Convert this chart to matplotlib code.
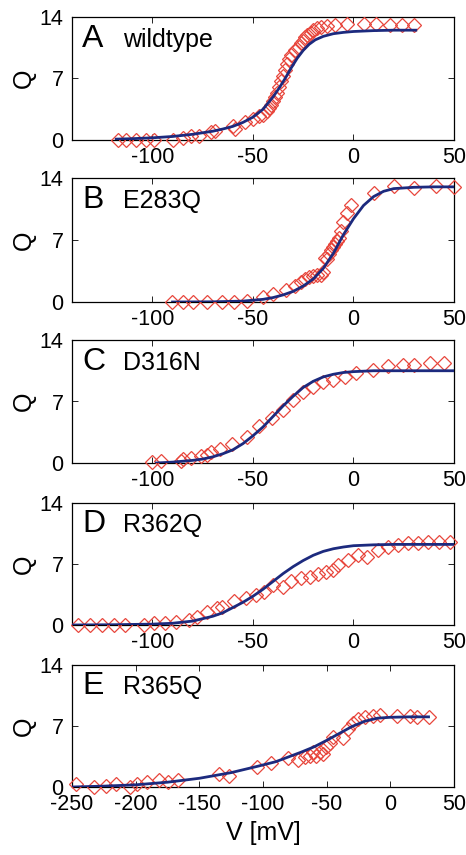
import matplotlib
matplotlib.use("Agg")
import matplotlib.pyplot as plt
import numpy as np

plt.rcParams['font.family'] = ['Liberation Sans', 'DejaVu Sans']
plt.rcParams['axes.unicode_minus'] = False

# panel A - wildtype
wt_v = [-117, -113, -108, -103, -99, -90, -85, -81, -77, -71, -69, -60, -59, -54, -50,
        -47, -45, -43, -42, -41, -40, -39, -38, -37, -36, -35, -34, -33, -32, -31,
        -29, -27, -26, -25, -24, -23, -21, -20, -18, -16, -13, -9, -3, 5, 11, 18, 24, 30]
wt_q = [0.0, 0.0, 0.0, 0.0, 0.0, 0.0, 0.2, 0.4, 0.5, 0.9, 1.0, 1.6, 1.2, 2.0, 2.4,
        2.7, 2.9, 3.3, 3.6, 4.0, 4.4, 4.9, 5.4, 6.0, 6.7, 7.3, 8.0, 8.7, 9.2, 9.7,
        10.2, 10.6, 11.0, 11.3, 11.7, 12.0, 12.2, 12.5, 12.7, 12.9, 13.0, 13.1, 13.2, 13.2,
        13.2, 13.1, 13.1, 13.1]
wt_fit_v = [-118, -110, -100, -90, -80, -70, -65, -60, -55, -50, -45, -40, -37, -34, -31,
            -28, -25, -22, -19, -15, -10, -5, 0, 10, 20, 31]
wt_fit_q = [0.1, 0.15, 0.25, 0.4, 0.65, 1.0, 1.25, 1.55, 2.0, 2.6, 3.5, 4.9, 5.9, 7.0, 8.2,
            9.3, 10.2, 10.9, 11.4, 11.8, 12.1, 12.25, 12.35, 12.45, 12.5, 12.5]

# panel B - E283Q
e283q_v = [-90.5, -84.7, -79.7, -73, -65.5, -59.3, -53, -45, -40, -33.5, -29, -26, -24, -22,
           -20, -18, -16, -15, -14, -13, -12, -11, -10, -9, -8, -7, -6, -5, -3, -1, 10,
           20, 30, 41, 50]
e283q_q = [0.0, 0.0, 0.0, 0.0, 0.0, 0.0, 0.15, 0.6, 0.9, 1.4, 1.8, 2.3, 2.6, 2.8,
           2.9, 3.1, 3.0, 3.4, 5.0, 4.9, 5.4, 5.9, 6.2, 6.6, 6.9, 7.2, 8.0, 9.0, 10.0, 10.9, 12.3,
           13.1, 12.9, 13.1, 13.0]
e283q_fit_v = [-90, -70, -55, -45, -40, -35, -30, -25, -20, -15, -10, -5, 0, 5, 10, 15, 20, 30, 40, 50]
e283q_fit_q = [0.0, 0.02, 0.1, 0.3, 0.5, 0.8, 1.2, 1.8, 2.6, 3.8, 5.5, 7.6, 9.4, 10.9, 11.9,
               12.5, 12.8, 12.95, 13.0, 13.0]

# panel C - D316N
d316n_v = [-100.2, -95.7, -86, -84.7, -80.7, -76, -72.7, -71, -66.3, -60.2, -53, -46.8, -40.7,
           -35.2, -30.2, -25.2, -20.2, -15.2, -10.2, -4.3, 1.5, 9.8, 17.3, 24.8, 30.3, 38.2, 44.8]
d316n_q = [0.1, 0.2, 0.2, 0.4, 0.6, 0.75, 0.95, 1.25, 1.6, 2.2, 3.0, 4.2, 5.1,
           6.05, 7.2, 8.1, 8.7, 9.2, 9.5, 9.8, 10.2, 10.6, 11.0, 11.2, 11.2, 11.35, 11.4]
d316n_fit_v = [-98, -90, -80, -75, -70, -65, -60, -55, -50, -45, -40, -35, -30, -25, -20, -15,
               -10, -5, 0, 10, 25, 50]
d316n_fit_q = [0.0, 0.1, 0.3, 0.45, 0.7, 1.05, 1.5, 2.2, 3.1, 4.1, 5.3, 6.5, 7.6, 8.6, 9.3, 9.8,
               10.1, 10.3, 10.4, 10.5, 10.5, 10.5]

# panel D - R362Q
r362q_v = [-137.2, -131, -125.2, -119.3, -113.5, -104.3, -99.3, -93.5, -88.5, -81.8, -77.7,
           -72.7, -67.7, -65.2, -59.3, -53.5, -48.5, -44.3, -40.2, -35.2, -31, -26, -21.8,
           -17.7, -13.5, -10.2, -7.7, -2.7, 2.3, 6.5, 12.3, 17.3, 22.3, 27.3, 32.3, 37.3,
           42.3, 48.2]
r362q_q = [0.0, 0.0, 0.0, 0.0, 0.0, 0.0, 0.2, 0.2, 0.4, 0.6, 0.95,
           1.5, 1.9, 2.1, 2.7, 3.1, 3.4, 3.8, 4.6, 4.4, 5.0, 5.4, 5.5,
           5.9, 6.1, 6.3, 6.9, 7.5, 8.0, 7.8, 8.6, 9.0, 9.2, 9.4, 9.4, 9.5,
           9.55, 9.5]
r362q_fit_v = [-140, -120, -100, -90, -80, -70, -65, -60, -55, -50, -45, -40, -35, -30, -25,
               -20, -15, -10, -5, 0, 10, 20, 35, 50]
r362q_fit_q = [0.0, 0.03, 0.1, 0.2, 0.45, 1.0, 1.4, 2.0, 2.6, 3.3, 4.1, 5.0, 5.9, 6.7, 7.4,
               8.0, 8.45, 8.75, 8.95, 9.1, 9.2, 9.25, 9.25, 9.25]

# panel E - R365Q
r365q_v = [-246.8, -232.4, -223.2, -215.3, -204.7, -199, -191, -181.8, -174.5, -166.6, -134.5,
           -126.6, -104.7, -93.7, -80.5, -72.6, -67.4, -63.4, -60.8, -58.2, -55.5, -52.9,
           -50.3, -47.6, -45, -37.1, -33, -29, -25.3, -20, -13.4, -8.2, 5, 15.5, 20.8, 30]
r365q_q = [0.4, 0.0, 0.1, 0.3, 0.0, 0.4, 0.6, 0.8, 0.6, 0.8, 1.5,
           1.3, 2.3, 2.7, 3.3, 3.1, 3.45, 3.6, 4.0, 3.6, 4.0, 3.8,
           4.6, 5.0, 5.75, 5.6, 6.7, 7.3, 7.85, 8.05, 8.1, 8.25, 8.1, 8.1, 8.05, 8.05]
r365q_fit_v = [-250, -225, -200, -175, -150, -125, -105, -90, -80, -70, -60, -50, -40, -30,
               -20, -10, 0, 15, 30]
r365q_fit_q = [0.0, 0.1, 0.25, 0.55, 1.0, 1.65, 2.35, 2.9, 3.45, 4.0, 4.6, 5.35, 6.15, 6.95,
               7.55, 7.9, 8.0, 8.05, 8.05]

letters = ['A', 'B', 'C', 'D', 'E']
names = ['wildtype', 'E283Q', 'D316N', 'R362Q', 'R365Q']
data = [(wt_v, wt_q, wt_fit_v, wt_fit_q),
        (e283q_v, e283q_q, e283q_fit_v, e283q_fit_q),
        (d316n_v, d316n_q, d316n_fit_v, d316n_fit_q),
        (r362q_v, r362q_q, r362q_fit_v, r362q_fit_q),
        (r365q_v, r365q_q, r365q_fit_v, r365q_fit_q)]

W, H = 466, 855
boxes = [(17, 140), (178, 302), (340, 463), (503, 625), (665, 787)]
x0, x1 = 72, 454

fig = plt.figure(figsize=(W / 100, H / 100), dpi=100)

for i, (top, bot) in enumerate(boxes):
    ax = fig.add_axes([x0 / W, 1 - bot / H, (x1 - x0) / W, (bot - top) / H])
    v, q, fv, fq = data[i]
    ax.plot(v, q, linestyle='none', marker='D', markersize=7.3, markerfacecolor='none',
            markeredgecolor='#e8463c', markeredgewidth=0.9, clip_on=False, zorder=3)
    ax.plot(fv, fq, color='#1c2a7e', linewidth=2.0, zorder=4)

    if i == 4:
        ax.set_xlim(-250, 50)
        ax.set_xticks([-250, -200, -150, -100, -50, 0, 50])
        ax.set_xlabel('V [mV]', fontsize=18, labelpad=4)
    else:
        ax.set_xlim(-140, 50)
        ax.set_xticks([-100, -50, 0, 50])
    ax.set_ylim(0, 14)
    ax.set_yticks([0, 7, 14])
    ax.set_ylabel('Q', fontsize=18, labelpad=3)

    ax.tick_params(direction='in', length=4, width=0.6, labelsize=15.5, top=True, right=True)
    ax.tick_params(axis='x', pad=5)
    ax.tick_params(axis='y', pad=6)
    for s in ax.spines.values():
        s.set_linewidth(0.9)

    ax.text(0.026, 0.76, letters[i], transform=ax.transAxes, fontsize=23, va='baseline')
    ax.text(0.133, 0.76, names[i], transform=ax.transAxes, fontsize=18, va='baseline')

fig.savefig('out.png', dpi=100)
